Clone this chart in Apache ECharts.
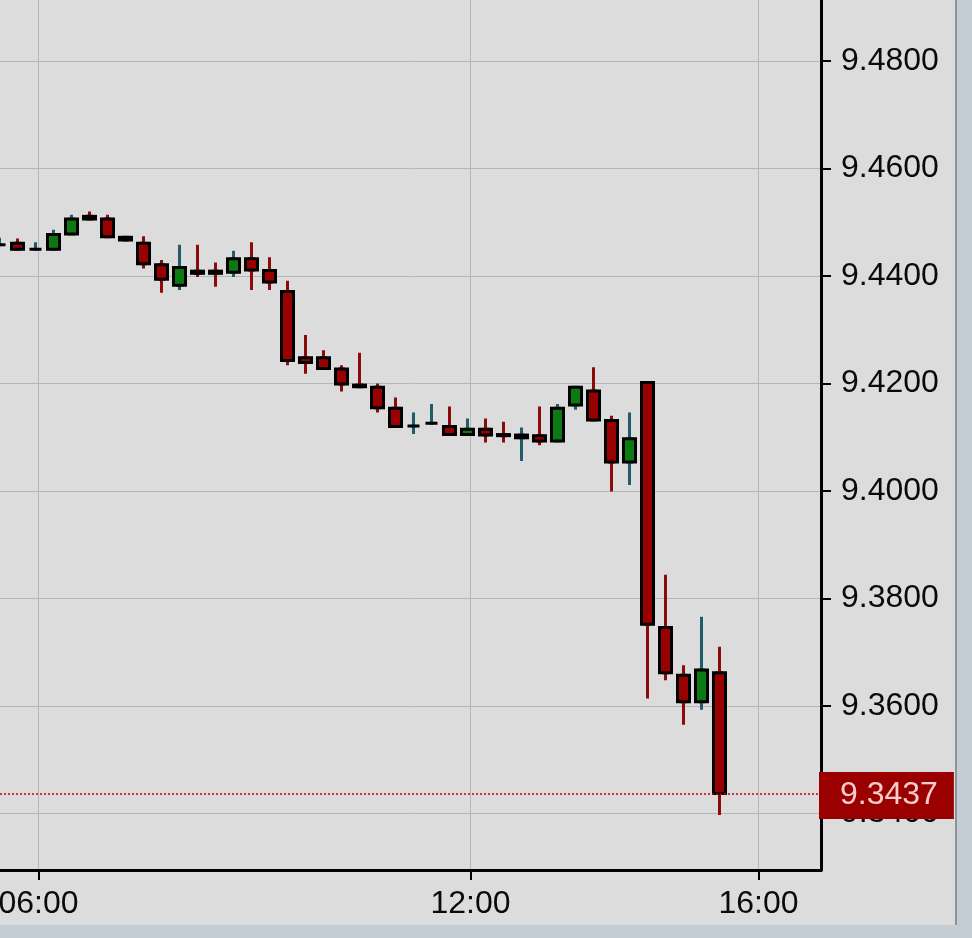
<!DOCTYPE html>
<html>
<head>
<meta charset="utf-8">
<script src="https://cdn.jsdelivr.net/npm/echarts@6/dist/echarts.min.js"></script>
<style>
  html, body { margin: 0; padding: 0; background: #c4ccd4; width: 972px; height: 938px; overflow: hidden; }
  #chart { position: absolute; left: 0; top: 0; width: 955px; height: 925px; background: #dcdcdc; border-right: 2px solid #8d939a; }
</style>
</head>
<body>
<div id="chart"></div>
<script>
const times  = ['05:27:30','05:42:30','05:57:30','06:12:30','06:27:30','06:42:30','06:57:30','07:12:30','07:27:30','07:42:30',
                '07:57:30','08:12:30','08:27:30','08:42:30','08:57:30','09:12:30','09:27:30','09:42:30','09:57:30','10:12:30',
                '10:27:30','10:42:30','10:57:30','11:12:30','11:27:30','11:42:30','11:57:30','12:12:30','12:27:30','12:42:30',
                '12:57:30','13:12:30','13:27:30','13:42:30','13:57:30','14:12:30','14:27:30','14:42:30','14:57:30','15:12:30','15:27:30'];
const opens  = [9.4458,9.4461,9.4450,9.4450,9.4478,9.4511,9.4506,9.4472,9.4461,9.4421,
                9.4383,9.4409,9.4409,9.4407,9.4432,9.4410,9.4371,9.4248,9.4248,9.4227,
                9.4197,9.4193,9.4154,9.4121,9.4126,9.4120,9.4105,9.4115,9.4105,9.4099,
                9.4103,9.4093,9.4160,9.4186,9.4131,9.4054,9.4202,9.3746,9.3657,9.3608,9.3662];
const closes = [9.4458,9.4450,9.4450,9.4477,9.4506,9.4506,9.4473,9.4467,9.4423,9.4394,
                9.4416,9.4405,9.4405,9.4432,9.4411,9.4389,9.4243,9.4239,9.4228,9.4199,
                9.4194,9.4155,9.4120,9.4121,9.4126,9.4105,9.4115,9.4104,9.4103,9.4104,
                9.4093,9.4154,9.4193,9.4132,9.4054,9.4097,9.3752,9.3662,9.3608,9.3667,9.3437];
const lows   = [9.4458,9.4450,9.4450,9.4450,9.4478,9.4506,9.4473,9.4467,9.4414,9.4369,
                9.4374,9.4398,9.4380,9.4398,9.4374,9.4374,9.4234,9.4218,9.4228,9.4185,
                9.4194,9.4146,9.4120,9.4106,9.4126,9.4105,9.4105,9.4090,9.4090,9.4056,
                9.4085,9.4093,9.4151,9.4132,9.3999,9.4011,9.3614,9.3648,9.3565,9.3593,9.3397];
const highs  = [9.4471,9.4470,9.4463,9.4486,9.4514,9.4520,9.4514,9.4472,9.4474,9.4430,
                9.4458,9.4458,9.4425,9.4447,9.4463,9.4435,9.4391,9.4290,9.4262,9.4234,
                9.4257,9.4200,9.4174,9.4146,9.4162,9.4157,9.4135,9.4135,9.4129,9.4118,
                9.4157,9.4162,9.4193,9.4230,9.4140,9.4146,9.4202,9.3844,9.3676,9.3766,9.3710];
const yTickValues = [9.34, 9.36, 9.38, 9.40, 9.42, 9.44, 9.46, 9.48];
const xTickLabels = ['06:00', '12:00', '16:00'];
const lastPrice = closes[closes.length - 1];

function toHours(s) {
  const p = s.split(':').map(Number);
  return p[0] + (p[1] || 0) / 60 + (p[2] || 0) / 3600;
}
const xs = times.map(toHours);
const xTickValues = xTickLabels.map(toHours);

const wickData = xs.map((x, i) => [x, opens[i], closes[i], lows[i], highs[i]]);
const bodyData = xs.map((x, i) => [x, opens[i], closes[i], Math.min(opens[i], closes[i]), Math.max(opens[i], closes[i])]);

const FONT = '"Liberation Sans", Arial, Helvetica, sans-serif';
const chart = echarts.init(document.getElementById('chart'), null, { renderer: 'canvas' });

chart.setOption({
  animation: false,
  backgroundColor: '#dcdcdc',
  grid: { left: 0, top: 0, width: 821, height: 870, containLabel: false, outerBoundsMode: 'none' },
  xAxis: {
    type: 'value',
    min: 5.46528, max: 16.86806,
    position: 'bottom',
    axisLine: { show: true, onZero: false, lineStyle: { color: '#000', width: 3 } },
    axisTick: { show: true, customValues: xTickValues, length: 10, lineStyle: { color: '#000', width: 2 } },
    axisLabel: {
      customValues: xTickValues,
      formatter: v => { const h = Math.round(v); return (h < 10 ? '0' : '') + h + ':00'; },
      fontSize: 32, fontFamily: FONT, color: '#0a0a0a', margin: 18
    },
    splitLine: { show: true, lineStyle: { color: '#b6b6b6', width: 1 } }
  },
  yAxis: {
    type: 'value',
    position: 'right',
    min: 9.329488, max: 9.491349,
    axisLine: { show: true, onZero: false, lineStyle: { color: '#000', width: 3 } },
    axisTick: { show: true, customValues: yTickValues, length: 10, lineStyle: { color: '#000', width: 2 } },
    axisLabel: {
      customValues: yTickValues,
      formatter: v => v.toFixed(4),
      fontSize: 32, fontFamily: FONT, color: '#0a0a0a', margin: 20
    },
    splitLine: { show: true, lineStyle: { color: '#b6b6b6', width: 1 } }
  },
  series: [
    {
      name: 'wicks',
      type: 'candlestick',
      data: wickData,
      encode: { x: 0, y: [1, 2, 3, 4] },
      barWidth: 4,
      itemStyle: {
        color: '#0b7a12', color0: '#990000',
        borderColor: '#1f5d6b', borderColor0: '#8b0a0a',
        borderWidth: 3
      },
      silent: true
    },
    {
      name: 'bodies',
      type: 'candlestick',
      data: bodyData,
      encode: { x: 0, y: [1, 2, 3, 4] },
      barWidth: 12,
      itemStyle: {
        color: '#0b7a12', color0: '#990000',
        borderColor: '#000000', borderColor0: '#000000',
        borderWidth: 3
      },
      silent: true
    },
    {
      name: 'last',
      type: 'line',
      data: [],
      color: '#cc0000',
      silent: true,
      z: 5,
      markLine: {
        silent: true,
        precision: 4,
        symbol: ['none', 'none'],
        lineStyle: { color: '#cc0000', type: [2, 2], width: 1.5, opacity: 1 },
        label: {
          show: true,
          position: 'end',
          distance: -2,
          offset: [0, 2],
          formatter: p => Number(p.value).toFixed(4),
          backgroundColor: '#9a0000',
          color: '#f6cccc',
          fontSize: 32,
          fontFamily: FONT,
          lineHeight: 35,
          padding: [6, 16, 6, 21]
        },
        emphasis: { disabled: true },
        data: [{ yAxis: lastPrice }]
      }
    }
  ]
});
</script>
</body>
</html>
